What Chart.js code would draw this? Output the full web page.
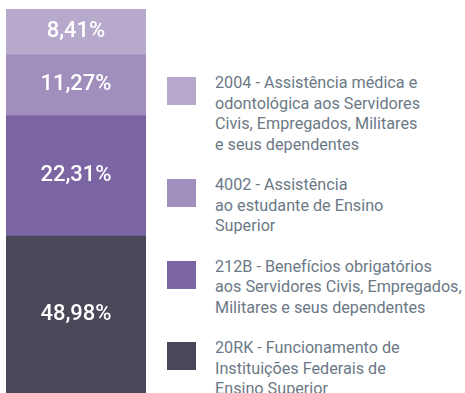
<!DOCTYPE html>
<html>
<head>
<meta charset="utf-8">
<script src="https://cdn.jsdelivr.net/npm/chart.js@4/dist/chart.umd.min.js"></script>
<style>
  html, body { margin: 0; padding: 0; background: #ffffff; }
  body { width: 465px; height: 393px; position: relative; overflow: hidden; font-family: Roboto, "Noto Sans", sans-serif; }
  #wrap { position: absolute; left: 0; top: 0; width: 152px; height: 393px; }
  #legend { position: absolute; left: 167px; top: 73px; width: 298px; }
  .item { display: flex; align-items: flex-start; margin-bottom: 20px; }
  .box { width: 29px; height: 28px; flex: none; margin-top: 4px; margin-right: 19px; }
  .txt { font-size: 16.2px; line-height: 20.5px; color: #6b7986; white-space: nowrap; }
</style>
</head>
<body>
<div id="wrap"><canvas id="c"></canvas></div>
<div id="legend"></div>
<script>
// Budget actions (top of the stack first) and their share of the total
const actions = [
  ['2004 - Assistência médica e', 'odontológica aos Servidores', 'Civis, Empregados, Militares', 'e seus dependentes'],
  ['4002 - Assistência', 'ao estudante de Ensino', 'Superior'],
  ['212B - Benefícios obrigatórios', 'aos Servidores Civis, Empregados,', 'Militares e seus dependentes'],
  ['20RK - Funcionamento de', 'Instituições Federais de', 'Ensino Superior']
];
const shares = [8.41, 11.27, 22.31, 48.98];
const colors = ['#b7a9cb', '#a08ebc', '#7b66a3', '#4a4759'];

// Chart.js stacks upward, so feed the datasets bottom-first
const order = [3, 2, 1, 0];
const datasets = order.map(i => ({
  label: actions[i],
  data: [shares[i]],
  backgroundColor: colors[i],
  borderWidth: 0,
  barPercentage: 1,
  categoryPercentage: 1
}));

const fmt = v => v.toFixed(2).replace('.', ',') + '%';

// White value labels, centred in the visible part of each segment
const segmentLabels = {
  id: 'segmentLabels',
  afterDatasetsDraw(chart) {
    const ctx = chart.ctx;
    const area = chart.chartArea;
    ctx.save();
    ctx.fillStyle = '#ffffff';
    ctx.font = '500 22px Roboto';
    ctx.textAlign = 'center';
    ctx.textBaseline = 'middle';
    chart.data.datasets.forEach((ds, di) => {
      const bar = chart.getDatasetMeta(di).data[0];
      const top = Math.max(Math.min(bar.y, bar.base), area.top);
      const bottom = Math.min(Math.max(bar.y, bar.base), area.bottom);
      ctx.fillText(fmt(ds.data[0]), bar.x, (top + bottom) / 2);
    });
    ctx.restore();
  }
};

// Legend listed top-of-stack first, built from the chart's own legend items
const htmlLegend = {
  id: 'htmlLegend',
  afterUpdate(chart) {
    const host = document.getElementById('legend');
    host.innerHTML = '';
    const items = chart.options.plugins.legend.labels.generateLabels(chart).slice().reverse();
    items.forEach(it => {
      const row = document.createElement('div');
      row.className = 'item';
      const box = document.createElement('div');
      box.className = 'box';
      box.style.background = it.fillStyle;
      const txt = document.createElement('div');
      txt.className = 'txt';
      const lines = Array.isArray(it.text) ? it.text : [it.text];
      lines.forEach((l, k) => {
        if (k) txt.appendChild(document.createElement('br'));
        txt.appendChild(document.createTextNode(l));
      });
      row.appendChild(box);
      row.appendChild(txt);
      host.appendChild(row);
    });
  }
};

const total = shares.reduce((a, b) => a + b, 0);

new Chart(document.getElementById('c'), {
  type: 'bar',
  data: { labels: [''], datasets },
  options: {
    responsive: true,
    maintainAspectRatio: false,
    animation: false,
    layout: { padding: { left: 6, right: 6, top: 9, bottom: 0 } },
    scales: {
      x: { stacked: true, display: false },
      y: { stacked: true, display: false, min: 20, max: total }
    },
    plugins: {
      legend: { display: false },
      tooltip: { enabled: false }
    }
  },
  plugins: [segmentLabels, htmlLegend]
});
</script>
</body>
</html>
